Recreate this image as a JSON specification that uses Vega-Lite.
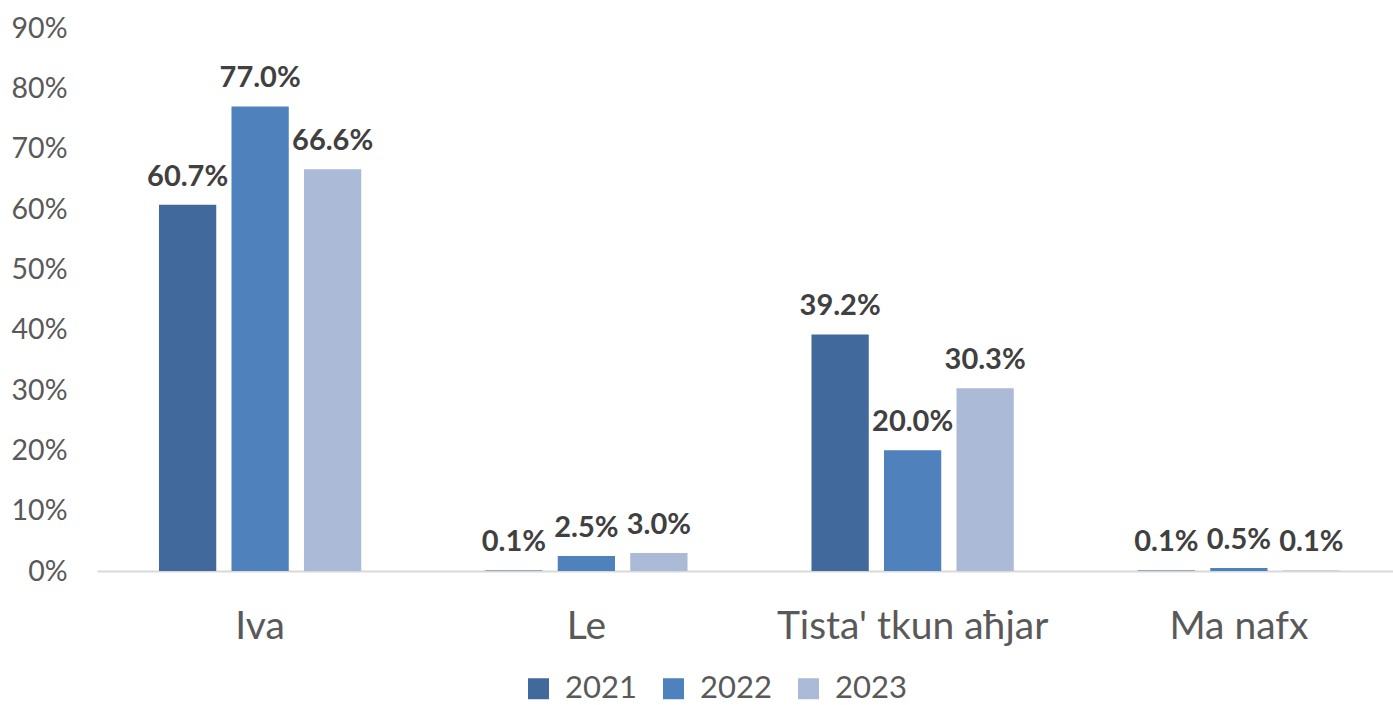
{
  "$schema": "https://vega.github.io/schema/vega-lite/v6.json",
  "autosize": {"type": "none"},
  "width": 1296,
  "height": 543,
  "padding": {"left": 97, "top": 28, "right": 0, "bottom": 134},
  "background": "white",
  "config": {"view": {"stroke": null}, "font": "Lato"},
  "data": {"values": [
    {"cat": "Iva", "year": "2021", "v": 0.607},
    {"cat": "Iva", "year": "2022", "v": 0.770},
    {"cat": "Iva", "year": "2023", "v": 0.666},
    {"cat": "Le", "year": "2021", "v": 0.001},
    {"cat": "Le", "year": "2022", "v": 0.025},
    {"cat": "Le", "year": "2023", "v": 0.030},
    {"cat": "Tista' tkun aħjar", "year": "2021", "v": 0.392},
    {"cat": "Tista' tkun aħjar", "year": "2022", "v": 0.200},
    {"cat": "Tista' tkun aħjar", "year": "2023", "v": 0.303},
    {"cat": "Ma nafx", "year": "2021", "v": 0.001},
    {"cat": "Ma nafx", "year": "2022", "v": 0.005},
    {"cat": "Ma nafx", "year": "2023", "v": 0.001}
  ]},
  "encoding": {
    "x": {
      "field": "cat", "type": "nominal", "sort": null, "title": null,
      "scale": {"paddingInner": 0.38, "paddingOuter": 0.19, "range": [0, 1305]},
      "axis": {
        "labelAngle": 0, "labelFontSize": 39, "labelColor": "#595959", "labelPadding": 36,
        "labelLimit": 0, "ticks": false, "domainColor": "#D9D9D9", "domainWidth": 2, "grid": false
      }
    },
    "xOffset": {"field": "year", "type": "nominal", "scale": {"paddingInner": 0.21, "paddingOuter": 0}},
    "y": {
      "field": "v", "type": "quantitative", "title": null,
      "scale": {"domain": [0, 0.9], "nice": false},
      "axis": {
        "format": ".0%", "values": [0, 0.1, 0.2, 0.3, 0.4, 0.5, 0.6, 0.7, 0.8, 0.9],
        "labelFontSize": 28.5, "labelColor": "#595959", "labelPadding": 30,
        "ticks": false, "domain": false, "grid": false
      }
    }
  },
  "layer": [
    {
      "mark": {"type": "bar"},
      "encoding": {
        "color": {
          "field": "year", "type": "nominal", "title": null,
          "scale": {"domain": ["2021", "2022", "2023"], "range": ["#41699B", "#4F81BD", "#AABAD7"]},
          "legend": {
            "orient": "none", "direction": "horizontal", "legendX": 426, "legendY": 645,
            "symbolType": "square", "symbolSize": 441, "symbolStrokeWidth": 0,
            "labelFontSize": 31, "labelColor": "#595959", "labelOffset": 11,
            "columnPadding": 21, "symbolOpacity": 1
          }
        }
      }
    },
    {
      "mark": {"type": "text", "baseline": "alphabetic", "dy": -19, "fontSize": 29, "fontWeight": "bold", "color": "#404040"},
      "encoding": {"text": {"field": "v", "type": "quantitative", "format": ".1%"}}
    }
  ]
}
